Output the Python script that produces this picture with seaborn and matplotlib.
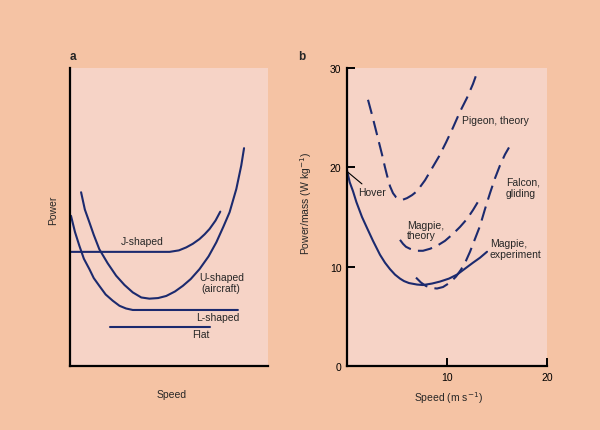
import matplotlib
matplotlib.use("Agg")
import matplotlib.pyplot as plt
import seaborn as sns

# ---- panel a (qualitative power curves, arbitrary units 0-10) ----
u_x = [0.56, 0.75, 0.98, 1.2, 1.48, 1.9, 2.33, 2.75, 3.17, 3.6, 4.01, 4.45,
       4.86, 5.3, 5.7, 6.1, 6.54, 7.0, 7.39, 7.75, 8.06, 8.4, 8.65, 8.79]
u_y = [5.83, 5.25, 4.82, 4.4, 3.92, 3.45, 3.03, 2.72, 2.47, 2.3, 2.26, 2.28,
       2.35, 2.5, 2.69, 2.92, 3.25, 3.68, 4.15, 4.68, 5.16, 5.94, 6.73, 7.31]
j_x = [0.05, 2.5, 5.03, 5.5, 5.87, 6.2, 6.54, 6.8, 7.05, 7.35, 7.59]
j_y = [3.83, 3.83, 3.83, 3.88, 3.98, 4.1, 4.26, 4.42, 4.6, 4.88, 5.18]
l_x = [0.05, 0.25, 0.47, 0.7, 0.98, 1.2, 1.48, 1.8, 2.16, 2.5, 2.83, 3.17, 8.48]
l_y = [5.04, 4.5, 4.04, 3.6, 3.25, 2.95, 2.69, 2.4, 2.19, 2.02, 1.93, 1.88, 1.88]
flat_x = [2.04, 7.05]
flat_y = [1.32, 1.32]

# ---- panel b (power/mass vs speed) ----
mexp_x = [0.0, 0.27, 0.6, 0.94, 1.5, 2.0, 2.6, 3.3, 3.8, 4.3, 4.8, 5.3, 5.7,
          6.2, 7.0, 7.6, 8.5, 9.3, 10.2, 11.0, 11.8, 12.6, 13.3, 14.0]
mexp_y = [19.7, 18.5, 17.6, 16.5, 15.0, 13.9, 12.6, 11.2, 10.4, 9.75, 9.2,
          8.8, 8.55, 8.35, 8.2, 8.15, 8.3, 8.5, 8.8, 9.2, 9.8, 10.4, 10.9, 11.5]
pig_x = [2.1, 2.5, 3.0, 3.5, 3.8, 4.0, 4.3, 4.6, 4.9, 5.2, 5.6, 6.0, 6.5, 7.0,
         7.8, 8.5, 9.2, 9.9, 10.6, 11.3, 12.0, 12.6, 13.1]
pig_y = [26.8, 25.3, 23.3, 21.3, 20.0, 19.2, 18.1, 17.4, 17.0, 16.8, 16.75,
         16.9, 17.2, 17.6, 18.7, 19.9, 21.1, 22.5, 24.0, 25.6, 27.0, 28.4, 29.8]
mth_x = [5.3, 5.6, 5.9, 6.3, 7.0, 7.6, 8.3, 9.0, 9.8, 10.6, 11.3, 12.0, 12.6,
         13.2]
mth_y = [12.7, 12.3, 12.0, 11.8, 11.6, 11.6, 11.8, 12.1, 12.6, 13.3, 14.0,
         14.8, 15.7, 16.7]
fal_x = [6.9, 7.4, 7.9, 8.5, 9.0, 9.6, 10.3, 10.9, 11.4, 11.9, 12.3, 12.8,
         13.3, 13.8, 14.3, 14.8, 15.3, 15.8, 16.2]
fal_y = [8.9, 8.4, 8.05, 7.85, 7.8, 7.95, 8.4, 9.0, 9.7, 10.6, 11.5, 12.8,
         14.1, 15.8, 17.4, 18.9, 20.2, 21.3, 22.0]

y_ticks = [0, 10, 20, 30]
x_ticks = [10, 20]

navy = "#1c2a6e"
fig_bg = "#f5c3a4"
ax_bg = "#f6d3c6"
fs = 7.5

sns.set_theme(style="white")
plt.rcParams["font.family"] = ["Liberation Sans", "DejaVu Sans"]

fig = plt.figure(figsize=(6, 4.31), dpi=100, facecolor=fig_bg)
ax_a = fig.add_axes([70 / 600, 1 - 367 / 431, 198 / 600, 298 / 431])
ax_b = fig.add_axes([347 / 600, 1 - 367 / 431, 200 / 600, 298 / 431])

for ax in (ax_a, ax_b):
    ax.set_facecolor(ax_bg)
    for side in ("top", "right"):
        ax.spines[side].set_visible(False)
    for side in ("left", "bottom"):
        ax.spines[side].set_color("black")
        ax.spines[side].set_linewidth(1.6)

# panel a
for xs, ys in [(u_x, u_y), (j_x, j_y), (l_x, l_y), (flat_x, flat_y)]:
    sns.lineplot(x=xs, y=ys, ax=ax_a, color=navy, linewidth=1.5,
                 sort=False, estimator=None)
ax_a.set_xlim(0, 10)
ax_a.set_ylim(0, 10)
ax_a.set_xticks([])
ax_a.set_yticks([])
ax_a.set_xlabel("Speed", fontsize=fs)
ax_a.set_ylabel("Power", fontsize=fs)
ax_a.xaxis.set_label_coords(0.515, -0.077)
ax_a.yaxis.set_label_coords(-0.06, 0.527)

ax_a.text(2.58, 4.2, "J-shaped", fontsize=fs, va="center", ha="left")
ax_a.text(7.64, 2.8, "U-shaped\n(aircraft)", fontsize=fs, va="center",
          ha="center", multialignment="center", linespacing=1.15)
ax_a.text(7.47, 1.65, "L-shaped", fontsize=fs, va="center", ha="center")
ax_a.text(6.63, 1.07, "Flat", fontsize=fs, va="center", ha="center")
ax_a.text(0.0, 1.04, "a", transform=ax_a.transAxes, fontsize=8.5,
          fontweight="bold", va="center", ha="left")

# panel b
sns.lineplot(x=mexp_x, y=mexp_y, ax=ax_b, color=navy, linewidth=1.5,
             sort=False, estimator=None)
for xs, ys in [(pig_x, pig_y), (mth_x, mth_y), (fal_x, fal_y)]:
    sns.lineplot(x=xs, y=ys, ax=ax_b, color=navy, linewidth=1.5,
                 sort=False, estimator=None)
    ax_b.lines[-1].set_dashes([7, 3.5])

ax_b.set_xlim(0, 20)
ax_b.set_ylim(0, 30)
ax_b.set_xticks(x_ticks)
ax_b.set_yticks(y_ticks)
ax_b.tick_params(direction="in", length=6, width=1.4, colors="black",
                 labelsize=fs, pad=4, left=True, bottom=True)
ax_b.set_xlabel("Speed (m s$^{-1}$)", fontsize=fs)
ax_b.set_ylabel("Power/mass (W kg$^{-1}$)", fontsize=fs)
ax_b.xaxis.set_label_coords(0.505, -0.077)
ax_b.yaxis.set_label_coords(-0.165, 0.55)

ax_b.annotate("Hover", xy=(0.1, 19.5), xytext=(1.1, 17.5), fontsize=fs,
              va="center", ha="left",
              arrowprops=dict(arrowstyle="-", color="black", lw=0.8,
                              shrinkA=0, shrinkB=0))
ax_b.text(11.5, 24.8, "Pigeon, theory", fontsize=fs, va="center", ha="left")
ax_b.text(15.9, 18.0, "Falcon,\ngliding", fontsize=fs, va="center",
          ha="left", linespacing=1.1)
ax_b.text(6.0, 13.7, "Magpie,\ntheory", fontsize=fs, va="center", ha="left",
          linespacing=1.1)
ax_b.text(14.3, 11.8, "Magpie,\nexperiment", fontsize=fs, va="center",
          ha="left", linespacing=1.1)
ax_b.text(-0.245, 1.04, "b", transform=ax_b.transAxes, fontsize=8.5,
          fontweight="bold", va="center", ha="left")

fig.savefig("out.png", dpi=100, facecolor=fig_bg)
